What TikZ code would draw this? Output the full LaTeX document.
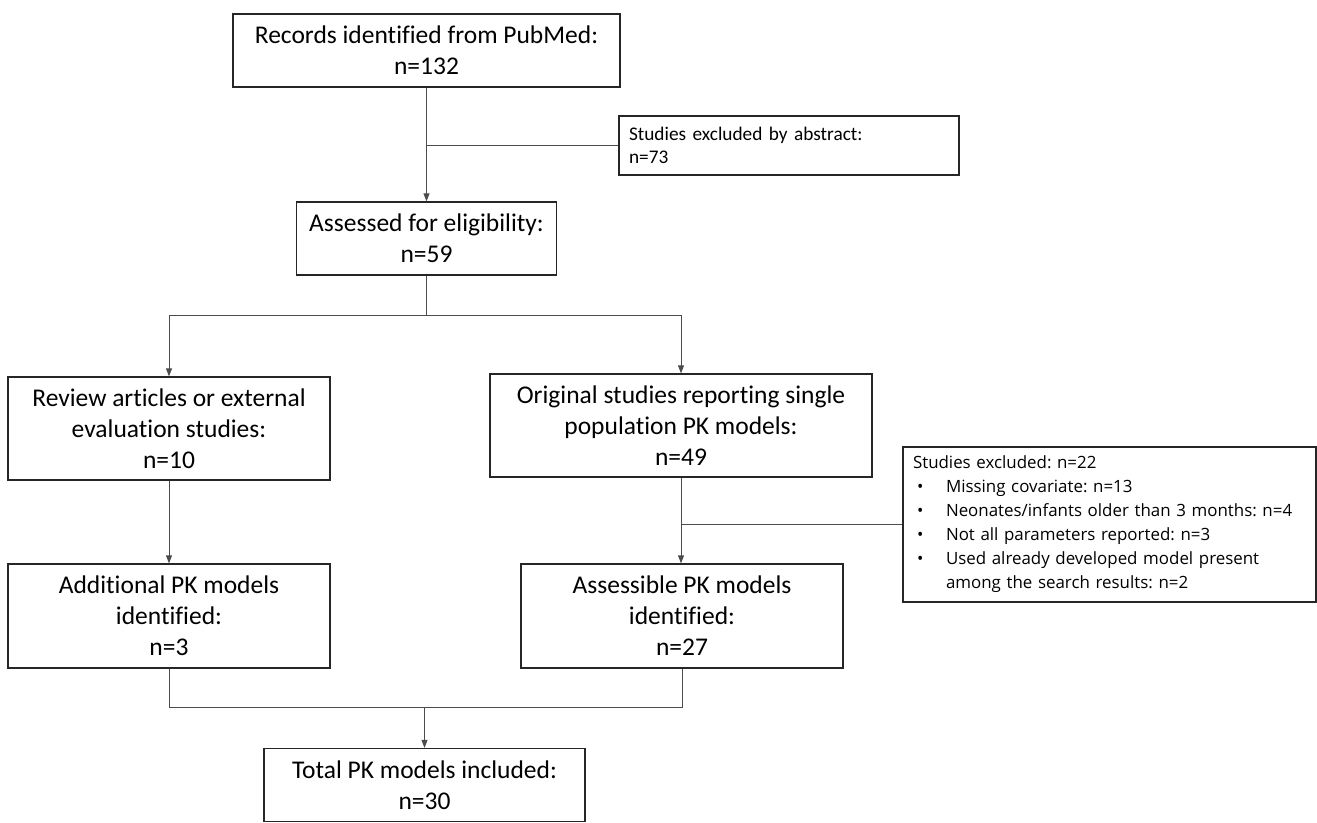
\documentclass[tikz,border=0pt]{standalone}
\usepackage{fontspec}
\setmainfont{Carlito}[Ligatures=CommonOff]
\newfontfamily\exfont{Open Sans}
\usetikzlibrary{arrows.meta}
\frenchspacing
\newcommand{\bul}{\makebox[33pt][l]{\hspace{4pt}\textbullet}}
\begin{document}
\begin{tikzpicture}[x=1pt,y=-1pt,
  box/.style={draw=black!85, line width=1.3pt, align=center, inner sep=0pt,
    font=\fontsize{25.5}{31}\selectfont},
  smallbox/.style={draw=black!85, line width=1.3pt, align=left, inner xsep=10pt, inner ysep=0pt,
    font=\fontsize{19.3}{23}\selectfont},
  listbox/.style={draw=black!85, line width=1.3pt, align=left, inner xsep=10pt, inner ysep=0pt,
    font=\exfont\fontsize{16.9}{24}\selectfont},
  conn/.style={draw=black!70, line width=1pt},
  arr/.style={conn, -{Triangle[length=8pt,width=6pt]}}]
\fill[white] (0,0) rectangle (1317,822);
\useasboundingbox (0,0) rectangle (1317,822);

\node[box, minimum width=387pt, minimum height=73pt] (rec) at (426.5,50.5) {Records identified from PubMed:\\n=132};
\node[smallbox, minimum width=340pt, minimum height=59pt, text width=320pt] (ex1) at (789,145.5) {Studies excluded by abstract:\\n=73};
\node[box, minimum width=260pt, minimum height=73pt] (ass) at (426.5,238.5) {Assessed for eligibility:\\n=59};
\node[box, minimum width=322pt, minimum height=103pt] (rev) at (169,428.5) {Review articles or external\\evaluation studies:\\n=10};
\node[box, minimum width=382pt, minimum height=103pt] (orig) at (681,425.5) {Original studies reporting single\\population PK models:\\n=49};
\node[listbox, minimum width=413pt, minimum height=155pt, text width=393pt] (ex2) at (1109.5,524.5) {Studies excluded: n=22\\
\bul Missing covariate: n=13\\
\bul Neonates/infants older than 3 months: n=4\\
\bul Not all parameters reported: n=3\\
\bul Used already developed model present\\
\hspace*{33pt}among the search results: n=2};
\node[box, minimum width=322pt, minimum height=104pt] (add) at (169,616) {Additional PK models\\identified:\\n=3};
\node[box, minimum width=322pt, minimum height=104pt] (asm) at (682,616) {Assessible PK models\\identified:\\n=27};
\node[box, minimum width=321pt, minimum height=73pt] (tot) at (424.5,785) {Total PK models included:\\n=30};

% top
\draw[arr] (rec.south) -- (rec.south |- ass.north);
\coordinate (j1) at (rec.south |- ex1.west);
\draw[conn] (j1) -- (ex1.west);
% split
\coordinate (s0) at (ass.south |- 0,315);
\coordinate (sl) at (rev.north |- s0);
\coordinate (sr) at (orig.north |- s0);
\draw[conn] (ass.south) -- (s0);
\draw[conn] (sl) -- (sr);
\draw[arr] (sl) -- (rev.north);
\draw[arr] (sr) -- (orig.north);
% middle
\draw[arr] (rev.south) -- (add.north);
\draw[arr] (orig.south) -- (orig.south |- asm.north);
\coordinate (j2) at (orig.south |- ex2.west);
\draw[conn] (j2) -- (ex2.west);
% merge
\coordinate (ml) at (add.south |- 0,707);
\coordinate (mr) at (asm.south |- 0,707);
\coordinate (mc) at (tot.north |- 0,707);
\draw[conn] (add.south) -- (ml) -- (mr) -- (asm.south);
\draw[arr] (mc) -- (tot.north);
\end{tikzpicture}
\end{document}
